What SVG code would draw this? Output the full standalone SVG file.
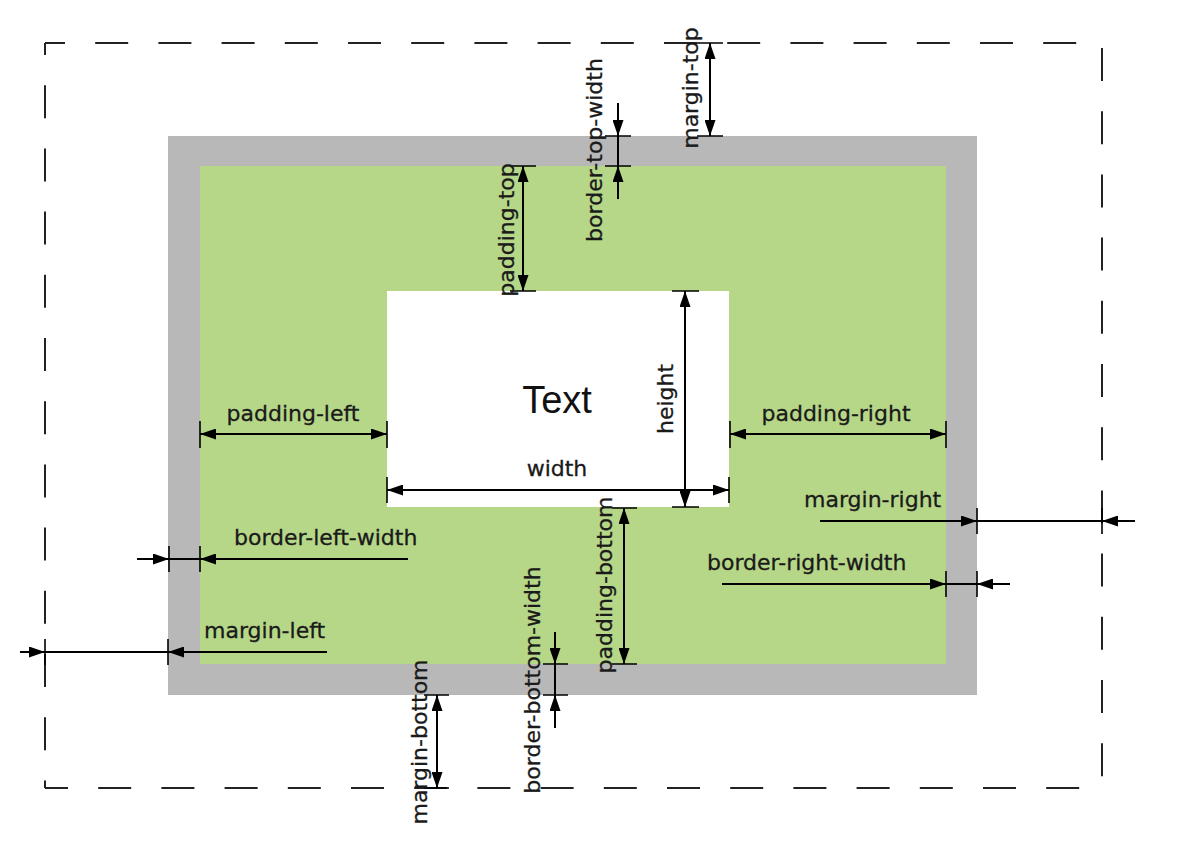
<svg xmlns="http://www.w3.org/2000/svg" width="1199" height="853" viewBox="0 0 1199 853">
<style>
.dash{fill:none;stroke:#222;stroke-width:2;stroke-dasharray:33 30.2}
.dim{fill:none;stroke:#000;stroke-width:2}
.tick{fill:none;stroke:#000;stroke-width:1.6}
.arr{fill:none;stroke:#000;stroke-width:2;marker-end:url(#ah)}
.dbl{fill:none;stroke:#000;stroke-width:2;marker-start:url(#ah);marker-end:url(#ah)}
.lbl{font-family:"DejaVu Sans",sans-serif;font-size:22px;fill:#1a1a1a;stroke:#1a1a1a;stroke-width:0.3}
.mid{text-anchor:middle}
</style>
<defs>
<marker id="ah" viewBox="0 0 16 11" refX="16" refY="5.5" markerWidth="16" markerHeight="11" markerUnits="userSpaceOnUse" orient="auto-start-reverse">
<path d="M0,0 L16,5.5 L0,11 z" fill="#000"/>
</marker>
</defs>
<rect width="1199" height="853" fill="#fff"/>
<g id="margin-box">
<line class="dash" x1="45" y1="43" x2="1102" y2="43" stroke-dashoffset="13"/>
<line class="dash" x1="45" y1="43" x2="45" y2="788" stroke-dashoffset="21"/>
<line class="dash" x1="45" y1="788" x2="1102" y2="788" stroke-dashoffset="10"/>
<line class="dash" x1="1102" y1="48" x2="1102" y2="788"/>
</g>
<g id="border-box"><rect x="168" y="136" width="809" height="559" fill="#b8b8b8"/></g>
<g id="padding-box"><rect x="200" y="166" width="746" height="498" fill="#b6d787"/></g>
<g id="content-box">
<rect x="387" y="291" width="342" height="216" fill="#fff"/>
<text x="557" y="413" text-anchor="middle" font-family="'Liberation Sans',Arial,sans-serif" font-size="38" fill="#111">Text</text>
</g>
<g id="connectors">
<path class="tick" d="M200,421V448M387,421V448"/>
<line class="dbl" x1="200" y1="434" x2="387" y2="434"/>
<path class="tick" d="M730,421V448M946,421V448"/>
<line class="dbl" x1="730" y1="434" x2="946" y2="434"/>
<path class="tick" d="M387,477V503M729,477V503"/>
<line class="dbl" x1="387" y1="490" x2="729" y2="490"/>
<path class="tick" d="M672,291H699M672,507H699"/>
<line class="dbl" x1="685" y1="291" x2="685" y2="507"/>
<path class="tick" d="M510,166H536M510,291H536"/>
<line class="dbl" x1="523" y1="166" x2="523" y2="291"/>
<path class="tick" d="M612,508H637M612,664H637"/>
<line class="dbl" x1="624" y1="508" x2="624" y2="664"/>
<path class="tick" d="M605,136H631M605,166H631"/>
<line class="dim" x1="618" y1="103" x2="618" y2="199"/>
<line class="arr" x1="618" y1="103" x2="618" y2="136"/>
<line class="arr" x1="618" y1="199" x2="618" y2="166"/>
<path class="tick" d="M697,43H723M697,136H723"/>
<line class="dbl" x1="710" y1="43" x2="710" y2="136"/>
<path class="tick" d="M543,664H568M543,695H568"/>
<line class="dim" x1="555" y1="632" x2="555" y2="728"/>
<line class="arr" x1="555" y1="632" x2="555" y2="664"/>
<line class="arr" x1="555" y1="728" x2="555" y2="695"/>
<path class="tick" d="M424,695H449M424,788H449"/>
<line class="dbl" x1="437" y1="695" x2="437" y2="788"/>
<path class="tick" d="M169,546V572M200,546V572"/>
<line class="dim" x1="137" y1="559" x2="408" y2="559"/>
<line class="arr" x1="137" y1="559" x2="169" y2="559"/>
<line class="arr" x1="408" y1="559" x2="200" y2="559"/>
<path class="tick" d="M45,639V665M168,639V665"/>
<line class="dim" x1="20" y1="652" x2="327" y2="652"/>
<line class="arr" x1="20" y1="652" x2="45" y2="652"/>
<line class="arr" x1="327" y1="652" x2="168" y2="652"/>
<path class="tick" d="M977,508V534M1102,508V534"/>
<line class="dim" x1="820" y1="521" x2="1135" y2="521"/>
<line class="arr" x1="820" y1="521" x2="977" y2="521"/>
<line class="arr" x1="1135" y1="521" x2="1102" y2="521"/>
<path class="tick" d="M946,571V597M977,571V597"/>
<line class="dim" x1="722" y1="584" x2="1010" y2="584"/>
<line class="arr" x1="722" y1="584" x2="946" y2="584"/>
<line class="arr" x1="1010" y1="584" x2="977" y2="584"/>
</g>
<g id="labels">
<text class="lbl mid" x="293" y="421">padding-left</text>
<text class="lbl mid" x="836" y="421">padding-right</text>
<text class="lbl mid" x="557" y="476">width</text>
<text class="lbl mid" transform="translate(673,399) rotate(-90)">height</text>
<text class="lbl mid" transform="translate(514,230) rotate(-90)">padding-top</text>
<text class="lbl mid" transform="translate(602,150) rotate(-90)">border-top-width</text>
<text class="lbl mid" transform="translate(698,88) rotate(-90)">margin-top</text>
<text class="lbl mid" transform="translate(612,585) rotate(-90)">padding-bottom</text>
<text class="lbl mid" transform="translate(540,680) rotate(-90)">border-bottom-width</text>
<text class="lbl mid" transform="translate(427,742) rotate(-90)">margin-bottom</text>
<text class="lbl" x="234" y="545">border-left-width</text>
<text class="lbl" x="204" y="638">margin-left</text>
<text class="lbl" x="804" y="507">margin-right</text>
<text class="lbl" x="707" y="570">border-right-width</text>
</g>
</svg>
